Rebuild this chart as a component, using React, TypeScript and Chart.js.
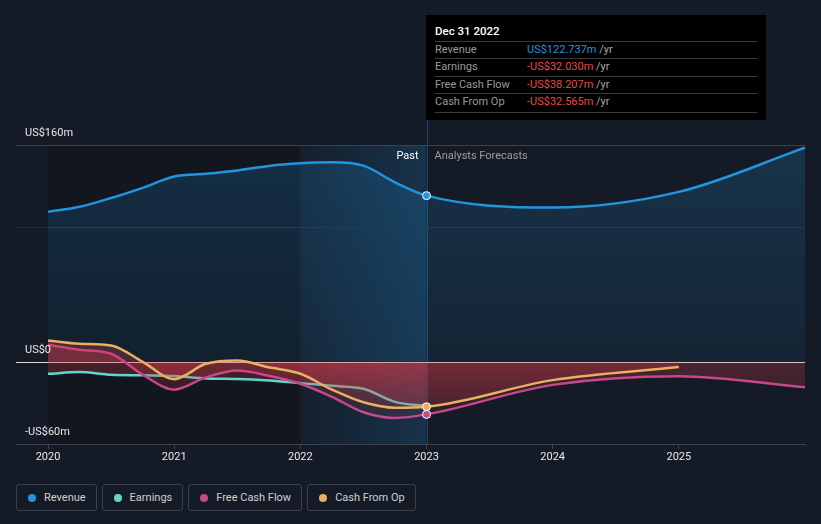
import React, { useEffect, useRef } from "react";
import { Chart, registerables } from "chart.js";

Chart.register(...registerables);

// ---- Data ----
const dates = [2020, 2020.25, 2020.5, 2020.75, 2021, 2021.25, 2021.5, 2021.75, 2022, 2022.25, 2022.5, 2022.75, 2023, 2024, 2025, 2026];
const revenue = [110.8, 114.5, 121, 128.5, 136.8, 138.8, 141.3, 144.6, 146.5, 147.3, 144.8, 132.5, 122.737, 114, 125.5, 158];
const earnings = [-8.4, -7.1, -9.1, -9.5, -10, -11.8, -12.2, -13.3, -15.2, -17.2, -19.4, -29, -32.03, null, null, null];
const freeCashFlow = [13, 9.4, 6.4, -9, -20, -11, -5.9, -9.8, -15.7, -25.3, -36.6, -40.8, -38.207, -16.5, -10.1, -18.2];
const cashFromOp = [16.2, 13.8, 12.5, 0.5, -12.3, -1, 1.5, -3.6, -8.3, -20, -29.3, -33.3, -32.565, -13, -3.4, null];

const seriesNames = ["Revenue", "Earnings", "Free Cash Flow", "Cash From Op"];
const seriesColors = ["#2394df", "#62d6c8", "#c7478b", "#e8b060"];

const xTickValues = [2020, 2021, 2022, 2023, 2024, 2025];
const yLabelValues = [160, 0, -60];
const yLabelTexts = ["US$160m", "US$0", "-US$60m"];
const gridValues = [160, 100];

const pastBandStart = 2022;
const pastBandEnd = 2023;
const tooltipIndex = 12;
const tooltipTitle = "Dec 31 2022";

const FONT = "Roboto, 'Noto Sans', sans-serif";

function fmt(v: number) {
  const s = "US$" + Math.abs(v).toFixed(3) + "m";
  return v < 0 ? "-" + s : s;
}

const bgPlugin = {
  id: "bgPlugin",
  beforeDatasetsDraw(chart: any) {
    const { ctx, chartArea: a, scales } = chart;
    const x = scales.x;
    const y = scales.y;
    ctx.save();
    const x0 = x.getPixelForValue(dates[0]);
    const xp = x.getPixelForValue(pastBandStart);
    const xe = x.getPixelForValue(pastBandEnd);
    ctx.fillStyle = "rgba(0,0,0,0.17)";
    ctx.fillRect(x0, a.top, xp - x0, a.bottom - a.top);
    const g = ctx.createLinearGradient(xp, 0, xe, 0);
    g.addColorStop(0, "rgba(33,148,223,0.04)");
    g.addColorStop(1, "rgba(33,148,223,0.2)");
    ctx.fillStyle = g;
    ctx.fillRect(xp, a.top, xe - xp, a.bottom - a.top);

    // hover line
    ctx.strokeStyle = "rgba(33,148,223,0.35)";
    ctx.lineWidth = 1;
    ctx.beginPath();
    ctx.moveTo(Math.round(xe) + 0.5, 15);
    ctx.lineTo(Math.round(xe) + 0.5, a.bottom);
    ctx.stroke();

    // grid lines
    gridValues.forEach((v, i) => {
      const py = Math.round(y.getPixelForValue(v)) + 0.5;
      ctx.strokeStyle = i === 0 ? "#3b414d" : "#252d3a";
      ctx.beginPath();
      ctx.moveTo(a.left, py);
      ctx.lineTo(a.right, py);
      ctx.stroke();
    });
    const pz = Math.round(y.getPixelForValue(0)) + 0.5;
    ctx.strokeStyle = "#d9d9d9";
    ctx.beginPath();
    ctx.moveTo(a.left, pz);
    ctx.lineTo(a.right, pz);
    ctx.stroke();
    ctx.restore();
  },
  afterDatasetsDraw(chart: any) {
    const { ctx, chartArea: a, scales } = chart;
    const x = scales.x;
    const y = scales.y;
    ctx.save();
    ctx.font = `11px ${FONT}`;
    ctx.textBaseline = "middle";
    ctx.fillStyle = "#e6e6e6";
    ctx.textAlign = "left";
    yLabelValues.forEach((v, i) => {
      ctx.fillText(yLabelTexts[i], a.left + 9, y.getPixelForValue(v) - 12);
    });
    const xe = x.getPixelForValue(pastBandEnd);
    ctx.textAlign = "right";
    ctx.fillStyle = "#ffffff";
    ctx.fillText("Past", xe - 8, a.top + 11);
    ctx.textAlign = "left";
    ctx.fillStyle = "#9c9c9c";
    ctx.fillText("Analysts Forecasts", xe + 8, a.top + 11);
    ctx.restore();
  },
};

function redFill(context: any) {
  const chart = context.chart;
  const a = chart.chartArea;
  if (!a) return "rgba(220,60,70,0.2)";
  const y0 = chart.scales.y.getPixelForValue(0);
  const g = chart.ctx.createLinearGradient(0, y0, 0, a.bottom);
  g.addColorStop(0, "rgba(225,60,75,0.27)");
  g.addColorStop(1, "rgba(225,60,75,0.02)");
  return g;
}

function blueFill(context: any) {
  const chart = context.chart;
  const a = chart.chartArea;
  if (!a) return "rgba(33,148,223,0.15)";
  const y0 = chart.scales.y.getPixelForValue(0);
  const g = chart.ctx.createLinearGradient(0, a.top, 0, y0);
  g.addColorStop(0, "rgba(33,148,223,0.2)");
  g.addColorStop(1, "rgba(33,148,223,0.08)");
  return g;
}

function toPoints(vals: (number | null)[]) {
  return dates.map((d, i) => ({ x: d, y: vals[i] }));
}

export default function App() {
  const ref = useRef<HTMLCanvasElement>(null);

  useEffect(() => {
    if (!ref.current) return;
    const pointR = (ctx: any) => (ctx.dataIndex === tooltipIndex ? 4 : 0);
    const mk = (i: number, vals: (number | null)[], fill: any, bg: any, order: number, pts: boolean) => ({
      label: seriesNames[i],
      data: toPoints(vals),
      borderColor: seriesColors[i],
      backgroundColor: bg,
      pointBackgroundColor: seriesColors[i],
      pointBorderColor: "#ffffff",
      pointBorderWidth: 1,
      pointRadius: pts ? pointR : 0,
      pointHoverRadius: 0,
      borderWidth: 2.5,
      fill,
      cubicInterpolationMode: "monotone",
      spanGaps: false,
      order,
    });
    const chart = new Chart(ref.current, {
      type: "line",
      data: {
        datasets: [
          mk(0, revenue, "origin", blueFill, 4, true),
          mk(1, earnings, "origin", redFill, 3, false),
          mk(2, freeCashFlow, "origin", redFill, 2, true),
          mk(3, cashFromOp, "origin", redFill, 1, true),
        ] as any,
      },
      options: {
        animation: false,
        responsive: false,
        layout: { padding: { left: 16, right: 16, top: 145, bottom: 0 } },
        plugins: { legend: { display: false }, tooltip: { enabled: false } },
        events: [],
        scales: {
          x: {
            type: "linear",
            min: 2019.746,
            max: 2026,
            afterBuildTicks: (s: any) => {
              s.ticks = xTickValues.map((v) => ({ value: v }));
            },
            afterFit: (s: any) => {
              s.height = 26;
            },
            ticks: {
              callback: (v: any) => String(v),
              color: "#e8e8e8",
              font: { size: 11, family: FONT },
              padding: 2,
              maxRotation: 0,
              autoSkip: false,
            },
            grid: { drawOnChartArea: false, drawTicks: true, tickLength: 5, color: "#3c4250" },
            border: { color: "#3c4250" },
          },
          y: { type: "linear", min: -60, max: 160, display: false },
        },
      } as any,
      plugins: [bgPlugin],
    });
    return () => chart.destroy();
  }, []);

  const allSeries = [revenue, earnings, freeCashFlow, cashFromOp];

  return (
    <div
      style={{
        position: "absolute",
        left: 0,
        top: 0,
        width: 821,
        height: 524,
        background: "#151b26",
        overflow: "hidden",
        fontFamily: FONT,
      }}
    >
      <canvas ref={ref} width={821} height={470} style={{ position: "absolute", left: 0, top: 0, width: 821, height: 470 }} />
      <div
        style={{
          position: "absolute",
          left: 426,
          top: 15,
          width: 340,
          height: 105,
          background: "#000000",
        }}
      >
        <div style={{ position: "absolute", left: 9, top: 8, fontSize: 11.5, fontWeight: 500, color: "#ffffff", lineHeight: "16px" }}>
          {tooltipTitle}
        </div>
        {seriesNames.map((n, i) => {
          const v = allSeries[i][tooltipIndex] as number;
          return (
            <div
              key={n}
              style={{
                position: "absolute",
                left: 9,
                width: 322,
                top: 26 + i * 17.4,
                height: 17.4,
                borderTop: "1px solid #3a3a3a",
                borderBottom: i === 3 ? "1px solid #3a3a3a" : undefined,
                fontSize: 11,
                lineHeight: "16px",
              }}
            >
              <span style={{ position: "absolute", left: 0, color: "#9a9a9a" }}>{n}</span>
              <span style={{ position: "absolute", left: 92, whiteSpace: "nowrap" }}>
                <span style={{ color: v < 0 ? "#e84848" : "#2394df" }}>{fmt(v)}</span>
                <span style={{ color: "#a8a8a8" }}> /yr</span>
              </span>
            </div>
          );
        })}
      </div>
      <div style={{ position: "absolute", left: 16, top: 484, display: "flex", gap: 5 }}>
        {seriesNames.map((n, i) => (
          <div
            key={n}
            style={{
              display: "flex",
              alignItems: "center",
              height: 25,
              padding: "0 10px 0 11px",
              border: "1px solid #3a404c",
              borderRadius: 3,
              color: "#cfcfcf",
              fontSize: 11,
            }}
          >
            <span
              style={{
                display: "inline-block",
                width: 8,
                height: 8,
                borderRadius: 4,
                background: seriesColors[i],
                marginRight: 8,
              }}
            />
            {n}
          </div>
        ))}
      </div>
    </div>
  );
}
